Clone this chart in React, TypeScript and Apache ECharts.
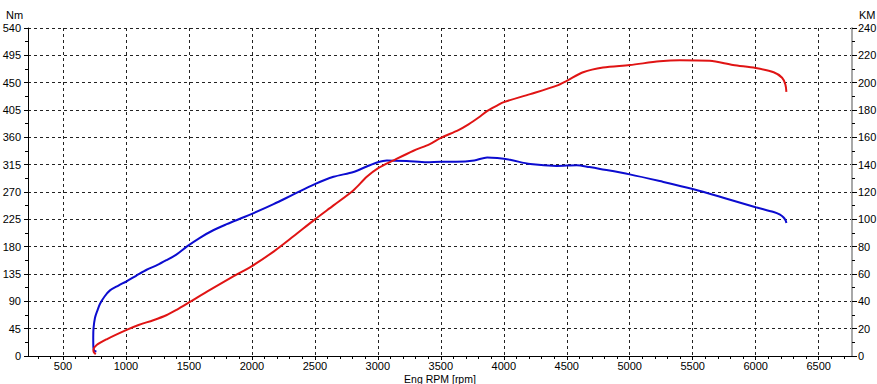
import React, { useEffect, useRef } from "react";
import * as echarts from "echarts";

// Torque curve (left axis, Nm)
const torqueRpm = [765, 748, 741, 740, 742, 754, 775, 794, 830, 873, 940, 1005, 1080, 1164, 1250, 1323, 1400, 1482, 1590, 1693, 1800, 1905, 2000, 2172, 2330, 2500, 2648, 2807, 2912, 3000, 3071, 3230, 3389, 3500, 3620, 3765, 3868, 3948, 4050, 4210, 4421, 4579, 4680, 4765, 5000, 5238, 5500, 5770, 6000, 6143, 6190, 6222, 6238, 6244];
const torqueNm = [7, 9, 14, 30, 45, 63, 76, 86, 98, 108, 116, 123, 132, 142, 150, 158, 167, 180, 195, 207, 217, 226, 234, 250, 266, 283, 295, 303, 312, 319, 322, 321, 319, 320, 320, 322, 327, 326, 323, 316, 313, 314, 311, 308, 299, 288, 275, 259, 245, 237, 233, 228, 223, 219];

// Power curve (right axis, KM)
const powerRpm = [760, 745, 741, 767, 850, 1005, 1100, 1217, 1320, 1402, 1508, 1667, 1852, 2000, 2172, 2330, 2500, 2648, 2807, 2912, 3000, 3124, 3283, 3413, 3500, 3640, 3720, 3800, 3870, 3950, 4000, 4210, 4421, 4500, 4630, 4788, 5000, 5238, 5397, 5635, 5820, 6000, 6143, 6210, 6236, 6244];
const powerKm = [1.3, 2.7, 4.4, 8, 12.4, 19.1, 22.7, 26.2, 29.8, 33.8, 39.6, 48.4, 58.2, 65.8, 76.4, 87.6, 100, 110.2, 121.3, 131.1, 137.3, 143.1, 150.2, 155.1, 159.6, 165.3, 169.5, 174.5, 179.3, 183.4, 185.8, 191.6, 197.8, 201.3, 207.6, 211.1, 212.9, 215.6, 216.4, 216, 212.9, 210.7, 207.6, 203.6, 198.7, 193.3];

// Tick labels
const rpmTicks = [500, 1000, 1500, 2000, 2500, 3000, 3500, 4000, 4500, 5000, 5500, 6000, 6500];
const rpmMinorTicks = [300, 400, 600, 700, 800, 900, 1100, 1200, 1300, 1400, 1600, 1700, 1800, 1900, 2100, 2200, 2300, 2400, 2600, 2700, 2800, 2900, 3100, 3200, 3300, 3400, 3600, 3700, 3800, 3900, 4100, 4200, 4300, 4400, 4600, 4700, 4800, 4900, 5100, 5200, 5300, 5400, 5600, 5700, 5800, 5900, 6100, 6200, 6300, 6400, 6600, 6700];

const FONT = "Liberation Sans, Arial, sans-serif";

export default function App() {
  const ref = useRef<HTMLDivElement>(null);
  useEffect(() => {
    if (!ref.current) return;
    const chart = echarts.init(ref.current, undefined, { renderer: "svg" });
    const xMin = 222;
    const xMax = 6765;
    const grid = "#222";
    chart.setOption({
      animation: false,
      backgroundColor: "#fff",
      textStyle: { fontFamily: FONT },
      grid: { left: 28, right: 25, top: 28, bottom: 28, containLabel: false, outerBoundsMode: "none" },
      graphic: [
        { type: "text", left: 6, top: 9, style: { text: "Nm", font: `11px ${FONT}`, fill: "#000" } },
        { type: "text", left: 859, top: 9, style: { text: "KM", font: `11px ${FONT}`, fill: "#000" } },
        {
          type: "text",
          x: 440,
          y: 373,
          style: { text: "Eng RPM [rpm]", font: `10.5px ${FONT}`, fill: "#000", align: "center", verticalAlign: "top" },
        },
      ],
      xAxis: [
        {
          type: "value",
          min: xMin,
          max: xMax,
          axisLine: { show: true, lineStyle: { color: "#000", width: 1 } },
          axisTick: { show: true, length: 4, customValues: rpmTicks, lineStyle: { color: "#000" } },
          axisLabel: {
            customValues: rpmTicks,
            formatter: (v: number) => String(v),
            fontFamily: FONT,
            fontSize: 11,
            color: "#000",
            margin: 4,
          },
          splitLine: { show: true, lineStyle: { color: grid, type: [3, 3], width: 1 } },
        },
        {
          type: "value",
          min: xMin,
          max: xMax,
          position: "bottom",
          axisLine: { show: false },
          axisTick: { show: true, length: 3, customValues: rpmMinorTicks, lineStyle: { color: "#000" } },
          axisLabel: { show: false },
          splitLine: { show: false },
        },
      ],
      yAxis: [
        {
          type: "value",
          min: 0,
          max: 540,
          interval: 45,
          position: "left",
          axisLine: { show: true, lineStyle: { color: "#000", width: 1 } },
          axisTick: { show: true, length: 4, lineStyle: { color: "#000" } },
          minorTick: { show: true, splitNumber: 2, length: 3, lineStyle: { color: "#000" } },
          axisLabel: { fontFamily: FONT, fontSize: 11, color: "#000", margin: 7 },
          splitLine: { show: true, lineStyle: { color: grid, type: [3, 3], width: 1 } },
        },
        {
          type: "value",
          min: 0,
          max: 240,
          interval: 20,
          position: "right",
          axisLine: { show: true, lineStyle: { color: "#a8a8a8", width: 2 } },
          axisTick: { show: true, length: 5, lineStyle: { color: "#000" } },
          minorTick: { show: true, splitNumber: 2, length: 3, lineStyle: { color: "#000" } },
          axisLabel: { fontFamily: FONT, fontSize: 11, color: "#000", margin: 6 },
          splitLine: { show: false },
        },
      ],
      series: [
        {
          name: "Nm",
          type: "line",
          xAxisIndex: 0,
          yAxisIndex: 0,
          data: torqueRpm.map((r, i) => [r, torqueNm[i]]),
          showSymbol: false,
          smooth: 0.3,
          lineStyle: { color: "#0c0cd0", width: 2 },
          itemStyle: { color: "#0c0cd0" },
        },
        {
          name: "KM",
          type: "line",
          xAxisIndex: 0,
          yAxisIndex: 1,
          data: powerRpm.map((r, i) => [r, powerKm[i]]),
          showSymbol: false,
          smooth: 0.3,
          lineStyle: { color: "#e01414", width: 2 },
          itemStyle: { color: "#e01414" },
        },
      ],
    });
    return () => chart.dispose();
  }, []);
  return (
    <div
      ref={ref}
      style={{ position: "fixed", left: 0, top: 0, width: 877, height: 384 }}
    />
  );
}
